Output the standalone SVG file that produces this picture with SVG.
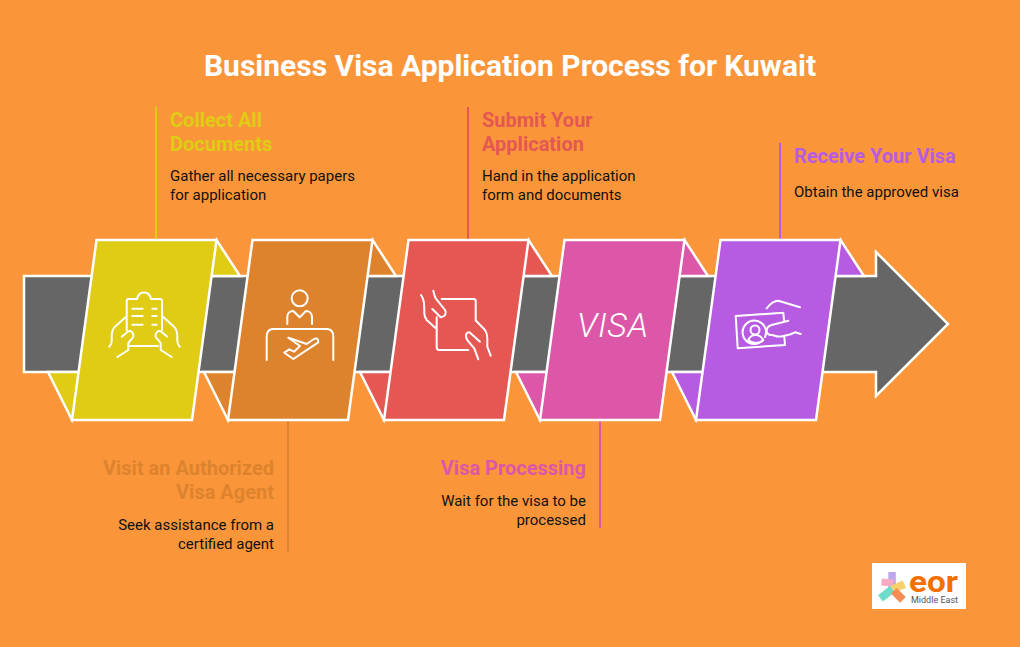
<svg xmlns="http://www.w3.org/2000/svg" width="1020" height="647" viewBox="0 0 1020 647">
<style>
text{font-family:Roboto,"Liberation Sans",sans-serif}
.title{font-size:30px;font-weight:700;fill:#fff;text-anchor:middle}
.h{font-size:20px;font-weight:700}
.d{font-size:15px;fill:#111}
.e{text-anchor:end}
.card{stroke:#fff;stroke-width:2.5;stroke-linejoin:miter}
.ic{fill:none;stroke:#fff;stroke-width:2;stroke-linecap:round;stroke-linejoin:round}
.c{fill:none;stroke-width:2}
</style>
<rect width="1020" height="647" fill="#FA9639"/>
<text class="title" x="510" y="76">Business Visa Application Process for Kuwait</text>
<g id="connectors">
<line class="c" x1="156" y1="107" x2="156" y2="240" stroke="#E0CB15"/>
<line class="c" x1="288" y1="420" x2="288" y2="552" stroke="#DE832D"/>
<line class="c" x1="468" y1="107" x2="468" y2="240" stroke="#E55753"/>
<line class="c" x1="600" y1="420" x2="600" y2="528" stroke="#DD57A8"/>
<line class="c" x1="780" y1="143" x2="780" y2="240" stroke="#B75CE2"/>
</g>
<g id="arrow">
<polygon points="24,276 876,276 876,252 948,324 876,396 876,372 24,372" fill="#666" stroke="#fff" stroke-width="2.5"/>
</g>
<g id="node-1">
<polygon class="card" fill="#E0CB15" points="216.500,240 240,276 205,276"/>
<polygon class="card" fill="#E0CB15" points="48,372 72,420 85,372"/>
<polygon class="card" fill="#E0CB15" points="96.500,240 216.500,240 192,420 72,420"/>
<path class="ic" d="M126.700 330V301q0-2 2-2H137c1-5 4-6.500 7-6.500s6 1.500 7 6.500h9q2 0 2 2v29M130 346H158M132.300 308.700h10.400M132.300 316h10.400M132.300 324.700h10.400M152.300 308.700h4.400M152.300 316h4.400M152.300 324.700h4.400M126 316.700L115 326.700C112 330 111.700 333 111.700 336V341C111.700 344 110.500 345.500 109.300 346.700M121.700 336.700L128 331.500C131 330 134 333 133.300 336.500C133 339 128.300 341 128.300 344V350L117.300 357M163 316.700L174 326.700C177 330 177.300 333 177.300 336V341C177.300 344 178.500 345.500 179.700 346.700M167.300 336.700L161 331.500C158 330 155 333 155.700 336.500C156 339 160.700 341 160.700 344V350L171.700 357"/>
</g>
<g id="node-2">
<polygon class="card" fill="#DE832D" points="372.500,240 396,276 361,276"/>
<polygon class="card" fill="#DE832D" points="204,372 228,420 241,372"/>
<polygon class="card" fill="#DE832D" points="252.500,240 372.500,240 348,420 228,420"/>
<path class="ic" d="M287.300 324V317C287.300 313 290 311 293.300 311L299.700 317.300L306 311C309 311 312 313 312 317V324M266.700 360V336.700Q266.700 329 273.300 329H326.700Q333.300 329 333.300 336.700V360"/>
<circle class="ic" cx="299.700" cy="298.300" r="8"/>
<path class="ic" d="M288.300 337.700L306.700 344L313.300 339.500Q318.300 336.500 318.300 342.300L293.300 359L284.300 352.700L289.300 349.300L294 351.700L300 346Z"/>
</g>
<g id="node-3">
<polygon class="card" fill="#E55753" points="528.500,240 552,276 517,276"/>
<polygon class="card" fill="#E55753" points="360,372 384,420 397,372"/>
<polygon class="card" fill="#E55753" points="408.500,240 528.500,240 504,420 384,420"/>
<path class="ic" d="M441.700 299H473.300Q475.700 299 475.700 301.300V320.700M436.700 317.300V347.300Q436.700 350 439 350H468.300M421 295C424 299 424.300 303 424.300 313C424.300 317 425 318 426.700 320L435.700 328.300M433.300 290.700C434 294 434.500 296 435.700 298.300L445 310C447 313 445 317 440.700 317.300L432.300 309M476 320.700L485 330C487 333 487.300 335 487.300 338V346.700L490.700 355.700M480 341.700L470 332.700C466 331 464.500 336 467.700 340.700L474.300 348.300L478.300 359.300"/>
</g>
<g id="node-4">
<polygon class="card" fill="#DD57A8" points="684.500,240 708,276 673,276"/>
<polygon class="card" fill="#DD57A8" points="516,372 540,420 553,372"/>
<polygon class="card" fill="#DD57A8" points="564.500,240 684.500,240 660,420 540,420"/>
<text x="577" y="337" font-size="34" font-style="italic" font-weight="300" fill="#fff" textLength="71" lengthAdjust="spacing">VISA</text>
</g>
<g id="node-5">
<polygon class="card" fill="#B75CE2" points="840.500,240 864,276 829,276"/>
<polygon class="card" fill="#B75CE2" points="672,372 696,420 709,372"/>
<polygon class="card" fill="#B75CE2" points="720.500,240 840.500,240 816,420 696,420"/>
<path class="ic" d="M783.300 312.700L735.700 316L737.700 348.300L785 345L784.300 336.700M783.300 312.700L784 320M788.300 320.700L771.700 325C765 327 765 335 771.700 335C775 335 776 338 783.300 336C788 335 790 335 795 332.300L800.700 334M766.700 308.300C770 304 773 300.700 778.300 300.700L800 307.300M765 337A11.700 11.700 0 1 0 759 343M748.300 340C750 336 753 335 755.500 335S761 336 763.300 340C760 344 752 344 748.300 340Z"/>
<circle class="ic" cx="755" cy="330" r="4.500"/>
</g>
<g id="label-1">
<text class="h" x="170" y="127" fill="#E0CB15">Collect All</text>
<text class="h" x="170" y="151" fill="#E0CB15">Documents</text>
<text class="d" x="170" y="181">Gather all necessary papers</text>
<text class="d" x="170" y="200">for application</text>
</g>
<g id="label-2">
<text class="h e" x="274" y="475" fill="#DE832D">Visit an Authorized</text>
<text class="h e" x="274" y="499" fill="#DE832D">Visa Agent</text>
<text class="d e" x="274" y="530">Seek assistance from a</text>
<text class="d e" x="274" y="549">certified agent</text>
</g>
<g id="label-3">
<text class="h" x="482" y="127" fill="#E55753">Submit Your</text>
<text class="h" x="482" y="151" fill="#E55753">Application</text>
<text class="d" x="482" y="181">Hand in the application</text>
<text class="d" x="482" y="200">form and documents</text>
</g>
<g id="label-4">
<text class="h e" x="586" y="475" fill="#DD57A8">Visa Processing</text>
<text class="d e" x="586" y="506">Wait for the visa to be</text>
<text class="d e" x="586" y="525">processed</text>
</g>
<g id="label-5">
<text class="h" x="794" y="163" fill="#B75CE2">Receive Your Visa</text>
<text class="d" x="794" y="197">Obtain the approved visa</text>
</g>
<g id="logo">
<rect x="872" y="563" width="94" height="46" fill="#fff"/>
<g opacity=".75">
<rect x="888.300" y="572" width="7.500" height="16" fill="#A78BE8"/>
<rect x="881.500" y="579" width="12" height="7" fill="#F58FB0" transform="rotate(5 887 582)"/>
<rect x="891" y="583" width="14" height="8" fill="#F5C23A" transform="rotate(-25 898 587)"/>
<rect x="879" y="590" width="15" height="8" fill="#3FD0B8" transform="rotate(-38 886 594)"/>
<rect x="892" y="591" width="13" height="8" fill="#F2681C" transform="rotate(45 898 595)"/>
</g>
<text x="909" y="592" font-size="30" font-weight="700" fill="#F56F00" textLength="49" lengthAdjust="spacingAndGlyphs">eor</text>
<text x="911" y="603" font-size="9" fill="#555" textLength="47" lengthAdjust="spacingAndGlyphs">Middle East</text>
</g>
</svg>
